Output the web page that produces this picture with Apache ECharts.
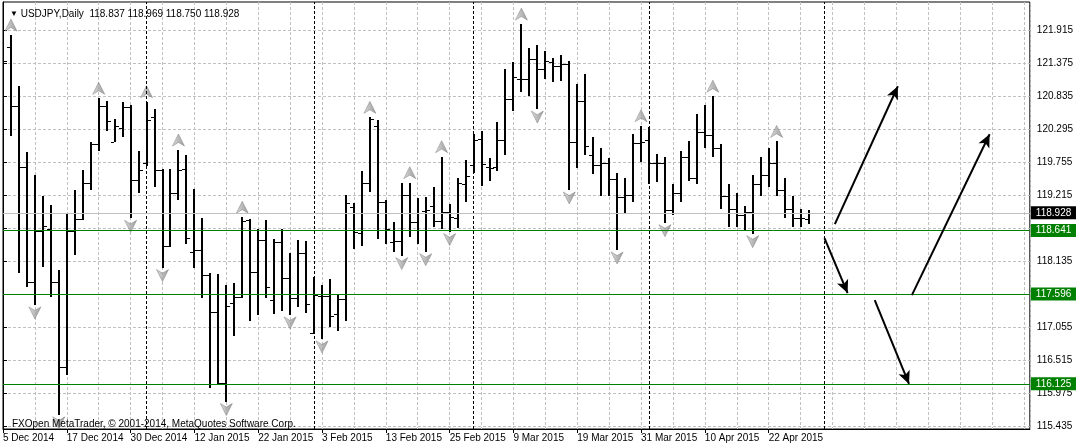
<!DOCTYPE html>
<html><head><meta charset="utf-8">
<script src="https://cdn.jsdelivr.net/npm/echarts@6/dist/echarts.min.js"></script>
<style>html,body{margin:0;padding:0;background:#fff}#c{width:1076px;height:447px}</style>
</head><body><div id="c"></div>
<script>
// ---- data ----
const symbolName = 'USDJPY,Daily';
const lastOHLC = [118.837, 118.969, 118.750, 118.928];
const copyright = 'FXOpen MetaTrader, © 2001-2014, MetaQuotes Software Corp.';
const dateLabels = ['5 Dec 2014','17 Dec 2014','30 Dec 2014','12 Jan 2015','22 Jan 2015','3 Feb 2015','13 Feb 2015','25 Feb 2015','9 Mar 2015','19 Mar 2015','31 Mar 2015','10 Apr 2015','22 Apr 2015'];
const labelBars = [0,8,16,24,32,40,48,56,64,72,80,88,96];
const opens = [119.796,121.639,120.679,119.686,117.805,118.639,118.661,117.805,116.414,118.639,
 118.825,119.425,120.057,120.679,120.096,120.314,120.668,119.468,119.741,120.505,
 119.632,118.394,119.250,119.648,118.295,118.323,117.914,117.303,116.141,117.450,
 117.559,118.814,117.957,118.486,117.505,118.448,117.870,117.532,118.268,116.959,
 117.565,117.575,117.275,117.515,119.032,118.596,119.414,120.357,119.108,118.448,
 118.475,119.223,118.786,118.956,119.048,118.797,118.939,118.841,119.397,119.714,
 120.134,119.680,119.676,120.117,120.794,121.121,121.116,121.443,121.279,121.394,
 121.339,121.361,120.096,120.761,119.872,119.714,119.741,119.479,119.185,119.223,
 120.068,120.117,119.741,119.750,118.970,119.250,119.850,119.500,120.250,120.200,
 120.000,119.200,119.000,118.900,118.950,119.400,119.550,119.750,119.300,119.000,
 118.850,118.837];
const highs = [121.705,121.841,121.007,119.921,119.550,119.206,119.059,117.995,118.912,119.305,
 119.632,120.085,120.805,120.767,120.467,120.739,120.696,119.943,120.750,120.630,
 119.648,119.648,119.959,119.877,119.321,118.841,117.941,117.930,117.750,117.777,
 118.857,118.825,118.666,118.814,118.503,118.661,118.268,118.486,118.470,117.875,
 117.750,117.843,117.597,119.223,119.086,119.616,120.494,120.450,119.141,118.786,
 119.425,119.425,119.179,119.196,119.359,119.850,119.076,119.506,119.796,120.216,
 120.270,119.823,120.412,121.285,121.405,122.021,121.623,121.678,121.579,121.459,
 121.514,121.416,121.034,121.203,120.172,119.987,119.823,119.577,119.496,120.216,
 120.357,120.341,119.894,119.850,119.400,119.950,120.100,120.550,120.700,120.840,
 120.050,119.400,119.250,119.050,119.550,119.850,120.000,120.100,119.500,119.200,
 119.000,118.969];
const lows = [119.714,120.188,117.941,117.712,117.423,118.050,117.559,115.623,116.277,118.241,
 118.814,119.305,119.948,120.276,120.096,120.167,118.841,119.250,119.703,119.359,
 118.034,118.377,119.141,118.416,118.034,117.532,116.059,116.125,115.841,116.921,
 117.532,117.166,117.259,117.532,117.270,117.330,117.259,117.384,117.297,116.948,
 116.866,117.068,117.003,117.166,118.334,118.388,119.277,118.503,118.416,118.285,
 118.230,118.541,118.416,118.295,118.705,118.666,118.623,118.677,119.103,119.588,
 119.376,119.457,119.616,119.877,120.603,120.914,120.843,120.630,121.121,121.078,
 121.088,119.305,119.670,119.877,119.566,119.212,119.212,118.323,118.923,119.103,
 119.768,119.397,119.441,118.770,118.900,119.100,119.450,119.400,120.000,119.850,
 119.000,118.700,118.700,118.650,118.590,119.200,119.350,119.200,118.850,118.700,
 118.700,118.750];
const closes = [121.421,120.679,119.686,117.805,118.639,118.721,117.805,116.414,118.639,118.825,
 119.425,120.057,120.679,120.434,120.352,120.657,119.468,119.632,120.450,119.632,
 118.394,119.250,119.632,118.514,118.323,117.914,117.303,116.141,117.406,117.559,
 118.803,117.957,118.486,117.712,118.448,117.870,117.532,118.268,117.434,117.586,
 117.575,117.243,117.515,119.086,118.612,119.414,120.467,119.108,118.672,118.475,
 119.223,118.786,118.934,118.977,118.797,118.945,118.857,119.414,119.534,120.123,
 119.730,119.670,120.117,120.794,121.148,121.116,121.443,121.279,121.421,121.339,
 121.361,120.096,120.761,120.030,119.714,119.741,119.479,119.185,119.223,120.068,
 120.096,119.741,119.750,118.970,119.250,119.850,119.500,120.250,120.200,120.000,
 119.200,119.000,118.900,118.950,119.400,119.550,119.750,119.300,119.000,118.850,
 118.840,118.928];
const upFractals = [1,12,18,22,30,46,51,55,65,80,89,97];
const downFractals = [4,7,16,20,28,36,40,50,53,56,67,71,77,83,94];
const separatorBars = [18,39,59,81,103];
const priceTicks = [115.435,115.975,116.515,117.055,117.595,118.135,118.675,119.215,119.755,120.295,120.835,121.375,121.915];
const hiddenPriceLabels = [117.595,118.675];
const levels = [118.641,117.596,116.125];
const bidPrice = 118.928;
const drawnArrows = [
  [[104.3,118.745],[112.2,121.004]],
  [[103.0,118.516],[105.9,117.617]],
  [[113.96,117.584],[123.7,120.218]],
  [[109.3,117.502],[113.6,116.128]]
];
// ---- chart ----
const FONT = 'Liberation Sans';
const barData = opens.map((o,i)=>[i,o,highs[i],lows[i],closes[i]]);
const chart = echarts.init(document.getElementById('c'), null, {renderer:'canvas'});
const upPath = 'path://M5,0 L10,10 L5,7 L0,10 Z';
const downPath = 'path://M0,0 L5,3 L10,0 L5,10 Z';
const arrowStyle = {color:new echarts.graphic.LinearGradient(0,0,1,0,[{offset:0,color:'#d8d8d8'},{offset:0.5,color:'#a8a8a8'},{offset:1,color:'#8a8a8a'}]),
  borderColor:'#7a7a7a',borderWidth:0.6};
const option = {
  animation:false,
  backgroundColor:'#fff',
  textStyle:{fontFamily:FONT},
  title:[
    {text:'{t|▼} '+symbolName+'  '+lastOHLC.map(v=>v.toFixed(3)).join(' '), left:5, top:4,
     textStyle:{fontFamily:FONT,fontSize:10,fontWeight:'normal',color:'#000',
       rich:{t:{fontSize:8,color:'#000'}}}},
    {text:copyright, left:7, top:414, textStyle:{fontFamily:FONT,fontSize:10,fontWeight:'normal',color:'#000'}}
  ],
  grid:{left:3,right:43,top:2,bottom:18,show:true,borderColor:'#000',borderWidth:1,backgroundColor:'transparent'},
  xAxis:[
    {type:'value',min:0,max:128.75,interval:4,
     axisLine:{show:false},axisTick:{show:false},axisLabel:{show:false},
     splitLine:{show:true,lineStyle:{color:'#c0c0c0',type:[3,2],width:1}}},
    {type:'value',min:0,max:128.75,position:'bottom',
     axisLine:{show:true,onZero:false,lineStyle:{color:'#000'}},
     axisTick:{show:true,length:4,customValues:labelBars,lineStyle:{color:'#000'}},
     axisLabel:{show:true,customValues:labelBars,align:'left',margin:4,fontSize:10,color:'#000',fontFamily:FONT,
       formatter:v=>{const k=labelBars.indexOf(Math.round(v));return k>=0?dateLabels[k]:'';}},
     splitLine:{show:false}}
  ],
  yAxis:[{type:'value',position:'right',min:115.391,max:122.383,scale:true,
     axisLine:{show:true,lineStyle:{color:'#000'}},
     axisTick:{show:true,length:4,customValues:priceTicks,lineStyle:{color:'#000'}},
     axisLabel:{show:true,margin:7,fontSize:10,color:'#000',fontFamily:FONT,
       customValues:priceTicks.filter(v=>hiddenPriceLabels.indexOf(v)<0),
       formatter:v=>v.toFixed(3)},
     splitLine:{show:true,customValues:priceTicks,lineStyle:{color:'#c0c0c0',type:[3,2],width:1}}}],
  series:[
    {type:'custom',name:'separators',xAxisIndex:0,data:[],silent:true,
     renderItem:()=>null,
     markLine:{silent:true,symbol:['none','none'],animation:false,label:{show:false},
       lineStyle:{color:'#000',type:[3,2],width:1},
       data:separatorBars.map(b=>({xAxis:b}))}},
    {type:'custom',name:'bars',xAxisIndex:0,clip:true,data:barData,z:3,
     renderItem:(params,api)=>{
       const i=api.value(0);
       const pO=api.coord([i,api.value(1)]),pH=api.coord([i,api.value(2)]),
             pL=api.coord([i,api.value(3)]),pC=api.coord([i,api.value(4)]);
       const x=Math.round(pH[0]);
       const yH=Math.round(pH[1]),yL=Math.round(pL[1]);
       return {type:'group',children:[
         {type:'rect',shape:{x:x-1,y:yH,width:2,height:Math.max(1,yL-yH)},style:{fill:'#000'}},
         {type:'rect',shape:{x:x-4,y:Math.round(pO[1]),width:3,height:1},style:{fill:'#000'}},
         {type:'rect',shape:{x:x+1,y:Math.round(pC[1]),width:3,height:1},style:{fill:'#000'}}
       ]};
     }},
    {type:'scatter',name:'fractalUp',xAxisIndex:0,z:4,silent:true,
     data:upFractals.map(i=>[i,highs[i]]),symbol:upPath,symbolSize:[12,12],symbolOffset:[0,-10],
     itemStyle:arrowStyle},
    {type:'scatter',name:'fractalDown',xAxisIndex:0,z:4,silent:true,
     data:downFractals.map(i=>[i,lows[i]]),symbol:downPath,symbolSize:[12,12],symbolOffset:[0,8],
     itemStyle:arrowStyle},
    {type:'custom',name:'levels',xAxisIndex:0,data:[],renderItem:()=>null,z:5,
     markLine:{silent:true,symbol:['none','none'],animation:false,
       data:[
         {yAxis:bidPrice,lineStyle:{color:'#c0c0c0',type:'solid',width:1},
          label:{show:true,position:'end',distance:1,formatter:bidPrice.toFixed(3),backgroundColor:'#000',color:'#fff',
            padding:[2,5,1,5],fontSize:10,fontFamily:FONT}},
         ...levels.map(v=>({yAxis:v,lineStyle:{color:'#008000',type:'solid',width:1},
          label:{show:true,position:'end',distance:1,formatter:v.toFixed(3),backgroundColor:'#008000',color:'#fff',
            padding:[2,5,1,5],fontSize:10,fontFamily:FONT}}))
       ]}},
    {type:'custom',name:'arrows',xAxisIndex:0,data:[],renderItem:()=>null,z:6,
     markLine:{silent:true,symbol:['none','arrow'],symbolSize:[9,13],animation:false,label:{show:false},
       lineStyle:{color:'#000',type:'solid',width:2},
       data:drawnArrows.map(a=>[{coord:a[0]},{coord:a[1]}])}}
  ]
};
chart.setOption(option);
</script></body></html>
